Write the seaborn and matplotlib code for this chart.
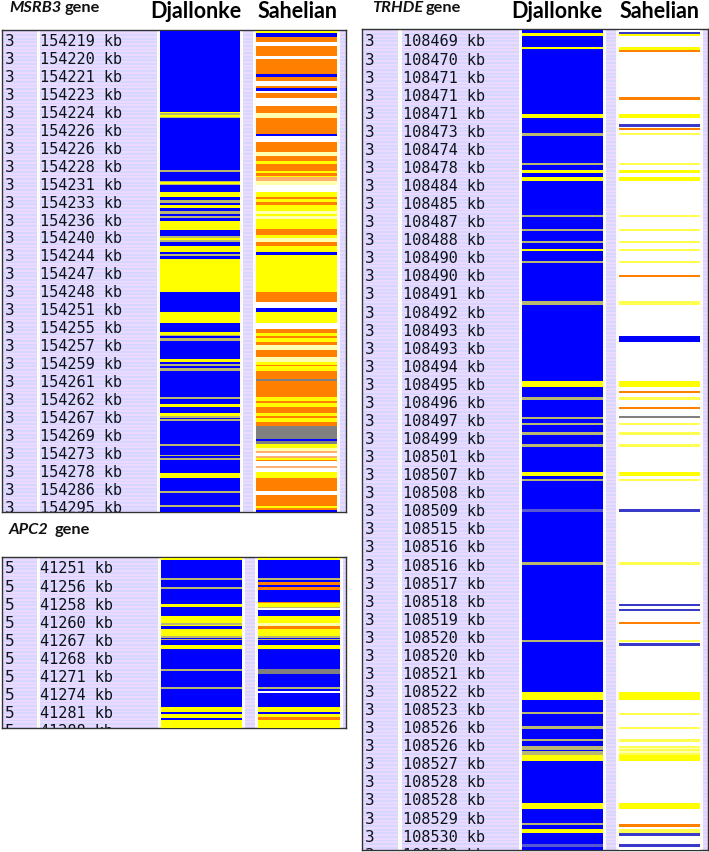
import numpy as np
import matplotlib
matplotlib.use("Agg")
import matplotlib.pyplot as plt
import seaborn as sns
from matplotlib.colors import ListedColormap

# genotype bands, top to bottom: letter = call, number = rows
MSRB3_LABELS = ["154219", "154220", "154221", "154223", "154224", "154226", "154226", "154228", "154231",
                "154233", "154236", "154240", "154244", "154247", "154248", "154251", "154255", "154257",
                "154259", "154261", "154262", "154267", "154269", "154273", "154278", "154286", "154295"]
APC2_LABELS = ["41251", "41256", "41258", "41260", "41267", "41268", "41271", "41274", "41281", "41288"]
TRHDE_LABELS = ["108469", "108470", "108471", "108471", "108471", "108473", "108474", "108478", "108484",
                "108485", "108487", "108488", "108490", "108490", "108491", "108492", "108493", "108493",
                "108494", "108495", "108496", "108497", "108499", "108501", "108507", "108508", "108509",
                "108515", "108516", "108516", "108517", "108518", "108519", "108520", "108520", "108521",
                "108522", "108523", "108526", "108526", "108527", "108528", "108528", "108529", "108530",
                "108532"]

MSRB3_DJALLONKE = """B81 Y1 E2 Y2 E1 B52 E2 B9 E1 Y2 E1 B7 Y5 B3 E3 B2 Y3 B3 E3 B2 E2 B3 Y9 B6 E2 Y2 E2 B4 Y6
B2 E2 B3 Y33 B20 Y11 B9 Y3 E1 B2 E3 B18 Y3 B2 E2 B2 E3 B26 E2 B5 Y3 B6 Y3 E2 B1 E2 B23 E2 B9 E1 B2 E2
B13 Y5 B13 E2 B12 E2 B5""".split()
MSRB3_SAHELIAN = """Y2 B4 O5 W4 O10 W3 O15 B3 O4 W5 O2 B3 W2 O5 W8 O7 P5 O16 B2 W6 O10 P4 O5 Y3 O7 Y2 O3 Y1
Q4 P4 W7 Y5 O2 Y3 O3 Y6 P3 Y2 P3 Y10 O6 Y3 P4 O4 Y6 B3 Y37 O10 W6 B4 Y11 W6 O4 Y3 O2 Y4 O3 P5 O7 P5 Y3
O1 Y5 O8 G2 O16 Y4 O2 Y4 O6 Y3 O2 Y4 O4 G13 B2 G3 Y4 P3 Q2 W3 Q2 Y2 O1 W5 Q2 W4 Y6 O13 W4 O11 Y2 O2
B2""".split()
APC2_DJALLONKE = """Y2 B18 E2 B7 E2 B15 Y3 B9 Y7 E2 Y1 B3 Y7 E2 B1 E1 B5 Y4 B20 E2 B16 E2 B18 Y5 B2 Y4 B2
Y8""".split()
APC2_SAHELIAN = """Y2 B18 E2 B2 O3 B2 O3 B12 O1 Y4 E1 W2 B6 Y7 P3 O3 Y7 E2 B1 E1 B5 Y4 B20 G5 B13 E2 B2 W2
B14 Y5 B2 Y3 O3 Y8""".split()
TRHDE_DJALLONKE = """B3 Y3 B11 Y2 B65 Y4 B15 E3 B27 E2 B5 Y3 B4 Y4 B34 E2 B12 E2 B10 E2 B6 Y2 B10 E2 B38 E4
B76 Y6 B10 E3 B17 E2 B4 E2 B7 E3 B9 E3 B25 Y4 B3 E2 B28 M3 B50 E3 B75 E2 B50 Y8 B12 E2 B12 E3 B10 E2 B5
E4 B1 E4 Y6 B42 Y6 B14 E2 B4 Y4 B11 M3 B3""".split()
TRHDE_SAHELIAN = """W2 L2 Y2 W11 Y3 O2 W45 O3 W14 Y4 W6 L3 W1 O2 W3 T2 W28 T2 W5 Y3 W4 Y4 W34 T2 W12 T2 W10
T2 W6 T2 W10 T2 W12 O2 W24 T4 W31 B6 W39 Y6 W4 O2 W4 T3 W7 O2 W7 G2 W5 T2 W7 T3 W9 T3 W25 Y4 W3 T2 W28
L3 W50 T3 W39 L2 W3 L2 W11 O2 W16 T2 W1 L3 W46 Y8 W13 T2 W12 T2 W10 T3 W4 T2 P1 T2 P2 T2 Y6 W42 Y6 W15 O3 W2 T4 L3
W8 L3 W3""".split()

CALLS = "BYOWGEPQTML"
CALL_COLORS = ["#0000ff", "#ffff00", "#ff8000", "#ffffff", "#808080", "#b8b870",
               "#ffffb0", "#ffb070", "#ffff50", "#5858d0", "#3a3ac8"]
BACK_COLORS = ["#d6d6ff", "#ecd9ff", "#fdfcf4"]

DPI = 100
W, H = 709, 853
ROW_PX = 1.8  # one list row of the original viewer


def px_axes(fig, x0, y0, x1, y1):
    return fig.add_axes([x0 / W, 1 - y1 / H, (x1 - x0) / W, (y1 - y0) / H])


def expand(bands):
    rows = []
    for b in bands:
        rows += [CALLS.index(b[0])] * int(b[1:])
    return np.array(rows).reshape(-1, 1)


def draw_column(fig, bands, x0, x1, y0):
    mat = expand(bands)
    ax = px_axes(fig, x0, y0, x1, y0 + len(mat))
    sns.heatmap(mat, ax=ax, cmap=ListedColormap(CALL_COLORS), vmin=-0.5, vmax=len(CALLS) - 0.5,
                cbar=False, xticklabels=False, yticklabels=False)
    for mesh in ax.collections:
        mesh.set_antialiased(False)


def draw_panel(fig, frame, gaps, chrom, labels, text_x, first_y, step, columns):
    x0, y0, x1, y1 = frame
    ax = px_axes(fig, x0, y0, x1, y1)

    # striped list background
    stripes = (np.arange(y1 - y0) // ROW_PX).astype(int) % 2
    back = np.tile(stripes.reshape(-1, 1), (1, x1 - x0))
    for g0, g1 in gaps:
        back[:, g0 - x0:g1 - x0] = 2
    ax.imshow(back, cmap=ListedColormap(BACK_COLORS), vmin=-0.5, vmax=2.5, aspect="auto",
              interpolation="nearest", extent=(0, x1 - x0, y1 - y0, 0))
    ax.set_xticks([])
    ax.set_yticks([])

    for i, lab in enumerate(labels):
        y = first_y + i * step - y0
        ax.text(3, y, chrom, family="DejaVu Sans Mono", fontsize=11.5, va="center",
                color="#0c1418", clip_on=True)
        ax.text(text_x - x0, y, f"{lab} kb", family="DejaVu Sans Mono", fontsize=11, va="center",
                color="#0c1418", clip_on=True)
    for sp in ax.spines.values():
        sp.set_visible(True)
        sp.set_color("#333333")
        sp.set_linewidth(1.0)
    for bands, c0, c1 in columns:
        draw_column(fig, bands, c0, c1, y0 + 1)


def gene_title(fig, x_name, x_gene, y, name):
    fig.text(x_name / W, 1 - y / H, name, family="Lato", style="italic", weight="bold",
             fontsize=11.8, va="center", color="#111111")
    fig.text(x_gene / W, 1 - y / H, "gene", family="Lato", weight="bold",
             fontsize=11.8, va="center", color="#111111")


sns.set_theme(style="white")
fig = plt.figure(figsize=(W / DPI, H / DPI), dpi=DPI, facecolor="white")

draw_panel(fig, (2, 31, 346, 513), [(37, 40), (157, 160), (240, 243), (253, 256), (337, 340)],
           "3", MSRB3_LABELS, 40, 41, 18.0,
           [(MSRB3_DJALLONKE, 160, 240), (MSRB3_SAHELIAN, 256, 337)])
draw_panel(fig, (2, 558, 346, 729), [(37, 40), (158, 161), (242, 245), (255, 258), (340, 343)],
           "5", APC2_LABELS, 40, 569, 18.1,
           [(APC2_DJALLONKE, 161, 242), (APC2_SAHELIAN, 258, 340)])
draw_panel(fig, (362, 30, 708, 851), [(398, 402), (519, 522), (603, 606), (616, 619), (700, 703)],
           "3", TRHDE_LABELS, 403, 42, 18.07,
           [(TRHDE_DJALLONKE, 522, 603), (TRHDE_SAHELIAN, 619, 700)])

gene_title(fig, 9, 65, 8, "MSRB3")
gene_title(fig, 9, 55, 530, "APC2")
gene_title(fig, 372, 426, 8, "TRHDE")
for x, y, s in [(196, 12, "Djallonke"), (298, 12, "Sahelian"), (557, 12, "Djallonke"), (660, 12, "Sahelian")]:
    fig.text(x / W, 1 - y / H, s, family="Lato", weight="bold", fontsize=15.5, ha="center", va="center",
             color="black")

fig.savefig("out.png", dpi=DPI)
